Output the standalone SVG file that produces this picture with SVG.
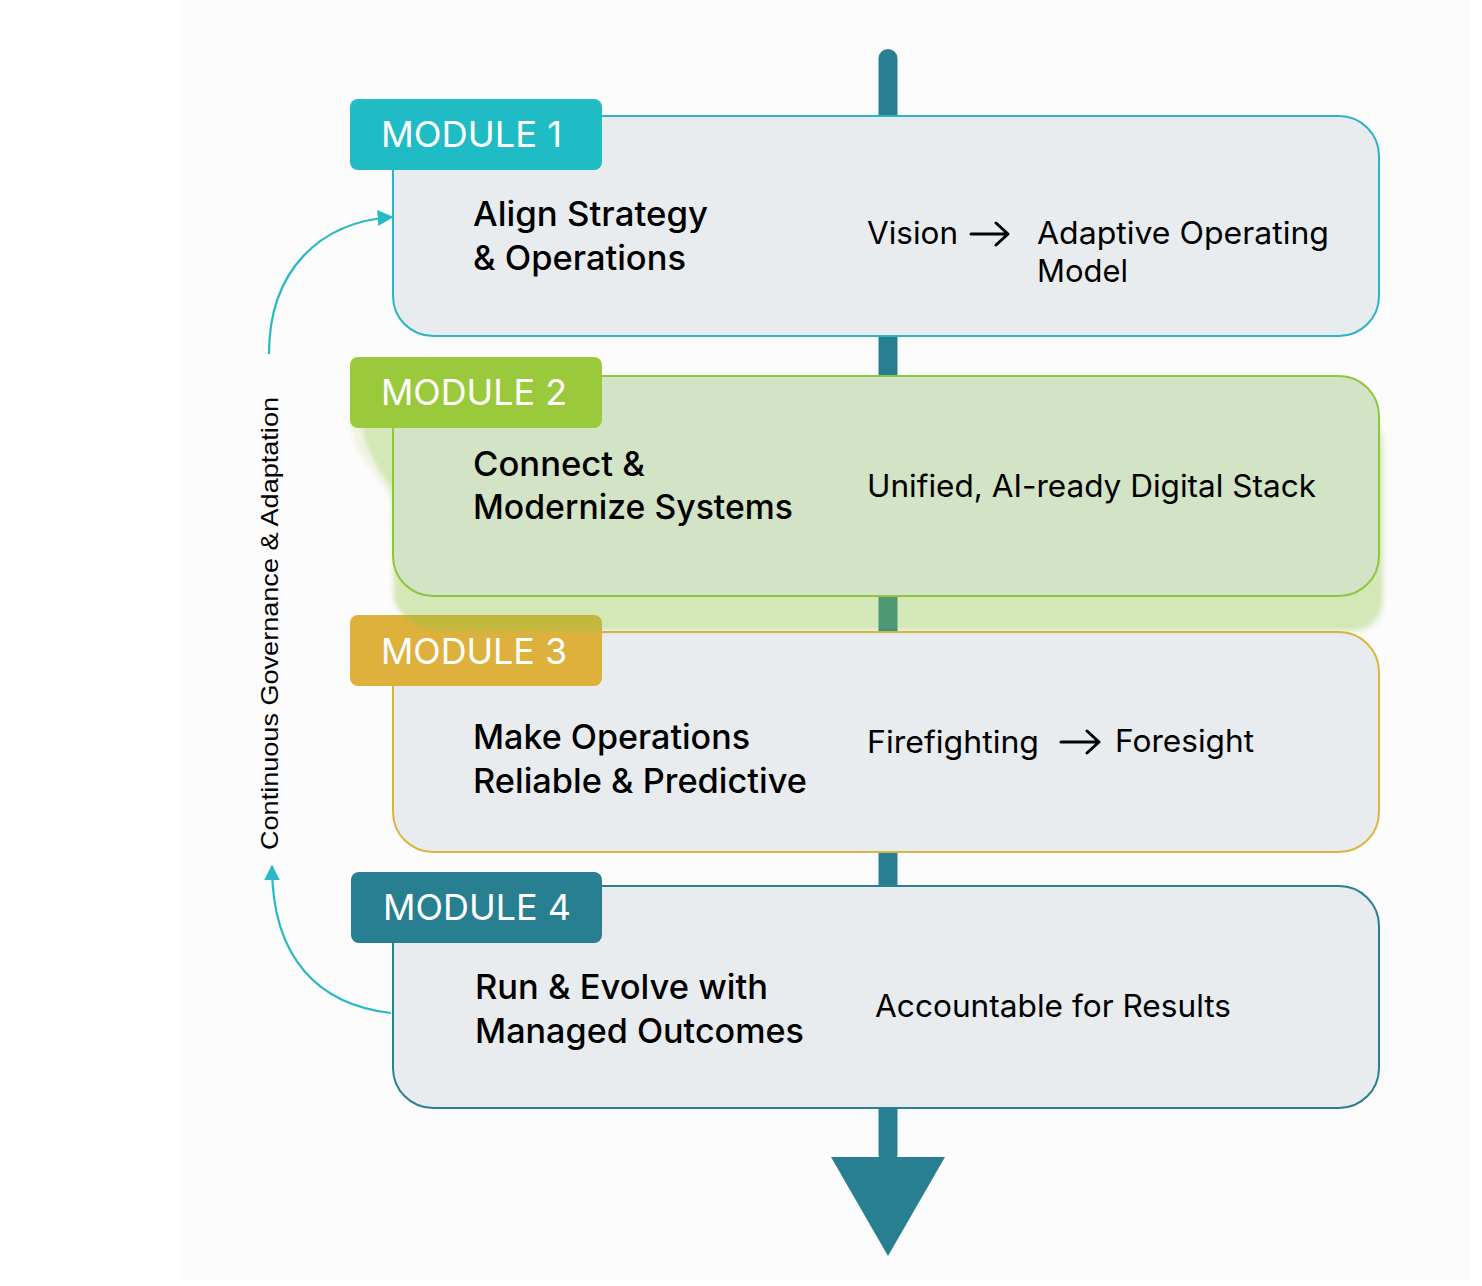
<svg xmlns="http://www.w3.org/2000/svg" width="1482" height="1286" viewBox="0 0 1482 1286">
<defs>
<style>
.box{stroke-width:2}
.tagt{font-family:Inter,Lato,"Liberation Sans",sans-serif;font-size:36px;fill:#ffffff}
.title{font-family:Inter,Lato,"Liberation Sans",sans-serif;font-size:34px;font-weight:500;fill:#000}
.desc{font-family:Inter,Lato,"Liberation Sans",sans-serif;font-size:31px;fill:#000}
.curve{fill:none;stroke:#2bb8c6;stroke-width:2.2}
.arr{fill:none;stroke:#000;stroke-width:3;stroke-linecap:round;stroke-linejoin:round}
.glow{fill:#8ec344}
</style>
<filter id="soft" x="-5%" y="-10%" width="110%" height="120%">
<feGaussianBlur stdDeviation="2"/>
</filter>
<marker id="mk" viewBox="0 0 10 10" refX="9" refY="5" markerWidth="16" markerHeight="16" orient="auto" markerUnits="userSpaceOnUse">
<path d="M0,0 L10,5 L0,10 Z" fill="#2bb8c6"/>
</marker>
</defs>
<rect x="0" y="0" width="1482" height="1286" fill="#ffffff"/>
<rect x="180" y="0" width="1290" height="1280" fill="#fcfcfc"/>

<g id="spine">
<rect x="878.5" y="49" width="19" height="1115" rx="9.5" fill="#287f92"/>
<path d="M831,1157 L945,1157 L888,1256 Z" fill="#287f92"/>
</g>

<g id="module1">
<rect class="box" x="393" y="116" width="986" height="220" rx="40" fill="#e8ecef" stroke="#2bb3c6"/>
<rect x="350" y="99" width="252" height="71" rx="8" fill="#1fbcc6"/>
<text class="tagt" x="381" y="147" textLength="181" lengthAdjust="spacingAndGlyphs">MODULE 1</text>
<text class="title" x="473" y="226" textLength="235" lengthAdjust="spacingAndGlyphs">Align Strategy</text>
<text class="title" x="473" y="270" textLength="213" lengthAdjust="spacingAndGlyphs">&amp; Operations</text>
<text class="desc" x="867" y="244" textLength="91" lengthAdjust="spacingAndGlyphs">Vision</text>
<path class="arr" d="M971,234 H1008 M996,223 L1008,234 L996,245"/>
<text class="desc" x="1037" y="244" textLength="292" lengthAdjust="spacingAndGlyphs">Adaptive Operating</text>
<text class="desc" x="1037" y="282" textLength="91" lengthAdjust="spacingAndGlyphs">Model</text>
</g>

<g id="module3">
<rect class="box" x="393" y="632" width="986" height="220" rx="40" fill="#e8ecef" stroke="#dab63c"/>
<rect x="350" y="615" width="252" height="71" rx="8" fill="#ddb13c"/>
<text class="tagt" x="381" y="664" textLength="186" lengthAdjust="spacingAndGlyphs">MODULE 3</text>
<text class="title" x="473" y="749" textLength="277" lengthAdjust="spacingAndGlyphs">Make Operations</text>
<text class="title" x="473" y="793" textLength="334" lengthAdjust="spacingAndGlyphs">Reliable &amp; Predictive</text>
<text class="desc" x="867" y="753" textLength="172" lengthAdjust="spacingAndGlyphs">Firefighting</text>
<path class="arr" d="M1061,742 H1099 M1087,731 L1099,742 L1087,753"/>
<text class="desc" x="1115" y="752" textLength="139" lengthAdjust="spacingAndGlyphs">Foresight</text>
</g>

<g id="module2">
<g filter="url(#soft)">
<path class="glow" opacity="0.13" d="M350,418 C350,450 372,470 386,490 C392,500 393,510 393,530 L396,600 C400,620 420,632 450,633 L1355,633 C1375,633 1385,620 1385,600 L1385,440 L1379,420 Z"/>
<path class="glow" opacity="0.28" d="M362,425 C364,450 380,470 392,490 L393,600 C405,625 420,630 460,630 L1350,630 C1372,630 1382,615 1382,595 L1382,450 L1379,430 Z"/>
</g>
<rect class="box" x="393" y="376" width="986" height="220" rx="40" fill="#d3e3c6" stroke="#8dc63f"/>
<rect x="350" y="357" width="252" height="71" rx="8" fill="#9aca3c"/>
<text class="tagt" x="381" y="405" textLength="186" lengthAdjust="spacingAndGlyphs">MODULE 2</text>
<text class="title" x="473" y="476" textLength="172" lengthAdjust="spacingAndGlyphs">Connect &amp;</text>
<text class="title" x="473" y="519" textLength="320" lengthAdjust="spacingAndGlyphs">Modernize Systems</text>
<text class="desc" x="867" y="497" textLength="449" lengthAdjust="spacingAndGlyphs">Unified, AI-ready Digital Stack</text>
</g>

<g id="module4">
<rect class="box" x="393" y="886" width="986" height="222" rx="40" fill="#e8ecef" stroke="#2a7f91"/>
<rect x="351" y="872" width="251" height="71" rx="8" fill="#287f92"/>
<text class="tagt" x="383" y="920" textLength="188" lengthAdjust="spacingAndGlyphs">MODULE 4</text>
<text class="title" x="475" y="999" textLength="293" lengthAdjust="spacingAndGlyphs">Run &amp; Evolve with</text>
<text class="title" x="475" y="1043" textLength="329" lengthAdjust="spacingAndGlyphs">Managed Outcomes</text>
<text class="desc" x="875" y="1017" textLength="356" lengthAdjust="spacingAndGlyphs">Accountable for Results</text>
</g>

<g id="connectors">
<path class="curve" d="M269,354 C269,270 320,222 392,217" marker-end="url(#mk)"/>
<path class="curve" d="M391,1013 C320,1005 272,960 272,866" marker-end="url(#mk)"/>
</g>

<text x="0" y="0" transform="translate(278,850) rotate(-90)" font-family="'Liberation Sans',Arial,sans-serif" font-size="24" fill="#000" textLength="453" lengthAdjust="spacingAndGlyphs">Continuous Governance &amp; Adaptation</text>
</svg>
